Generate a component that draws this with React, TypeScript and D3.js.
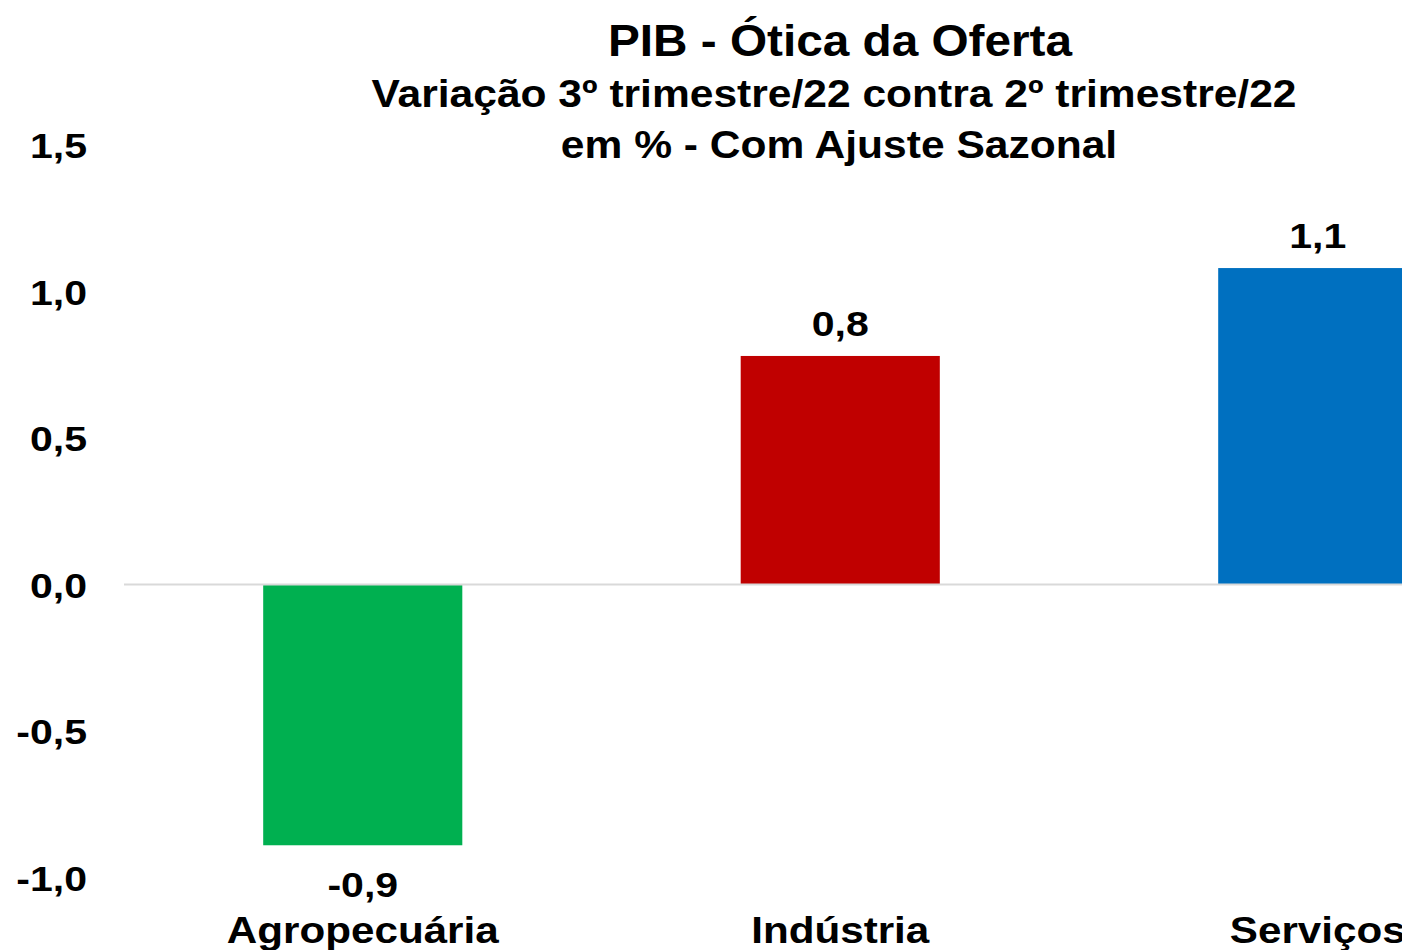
import * as d3 from 'd3';

const categories = ['Agropecuária', 'Indústria', 'Serviços'];
const values = [-0.89, 0.78, 1.08];
const colors = ['#00b050', '#c00000', '#0070c0'];
const yTicks = [-1.0, -0.5, 0.0, 0.5, 1.0, 1.5];

const titleLines = [
  'PIB - Ótica da Oferta',
  'Variação 3º trimestre/22 contra 2º trimestre/22',
  'em % - Com Ajuste Sazonal',
];

const W = 1402;
const H = 950;
const FONT = '"Liberation Sans", Arial, sans-serif';

const fmt = (v: number) => d3.format('.1f')(v).replace('.', ',').replace('−', '-');

// text stretched horizontally, the reference glyphs are wider than Arial
function Txt({ x, y, size, sx = 1.14, anchor = 'middle', children }:
  { x: number; y: number; size: number; sx?: number; anchor?: string; children: any }) {
  return (
    <text transform={`translate(${x},${y}) scale(${sx},1)`} fontSize={size} textAnchor={anchor}>
      {children}
    </text>
  );
}

export default function App() {
  const x = d3.scaleBand<string>()
    .domain(categories)
    .range([124, 1556.5])
    .paddingInner(0.583)
    .paddingOuter(0.2915);
  const y = d3.scaleLinear().domain([-1, 1.5]).range([877.5, 145]);

  return (
    <svg width={W} height={H} style={{ position: 'absolute', left: 0, top: 0, background: '#fff' }}
      fontFamily={FONT} fontWeight="bold">
      <Txt x={840} y={56} size={44} sx={1.085}>{titleLines[0]}</Txt>
      <Txt x={834} y={107} size={38} sx={1.12}>{titleLines[1]}</Txt>
      <Txt x={839} y={158} size={38} sx={1.12}>{titleLines[2]}</Txt>

      {yTicks.map(t => (
        <Txt key={t} x={87} y={y(t) + 13} size={36} anchor="end">{fmt(t)}</Txt>
      ))}

      {categories.map((c, i) => {
        const v = values[i];
        const top = y(Math.max(0, v));
        const h = Math.abs(y(v) - y(0));
        const cx = (x(c) ?? 0) + x.bandwidth() / 2;
        return (
          <g key={c}>
            <rect x={x(c)} y={top} width={x.bandwidth()} height={h} fill={colors[i]} />
            <Txt x={cx} y={v >= 0 ? y(v) - 20 : y(v) + 52} size={36}>{fmt(v)}</Txt>
            <Txt x={cx} y={943} size={37}>{c}</Txt>
          </g>
        );
      })}

      <line x1={124} x2={W} y1={y(0)} y2={y(0)} stroke="#d9d9d9" strokeWidth={2} />
    </svg>
  );
}
